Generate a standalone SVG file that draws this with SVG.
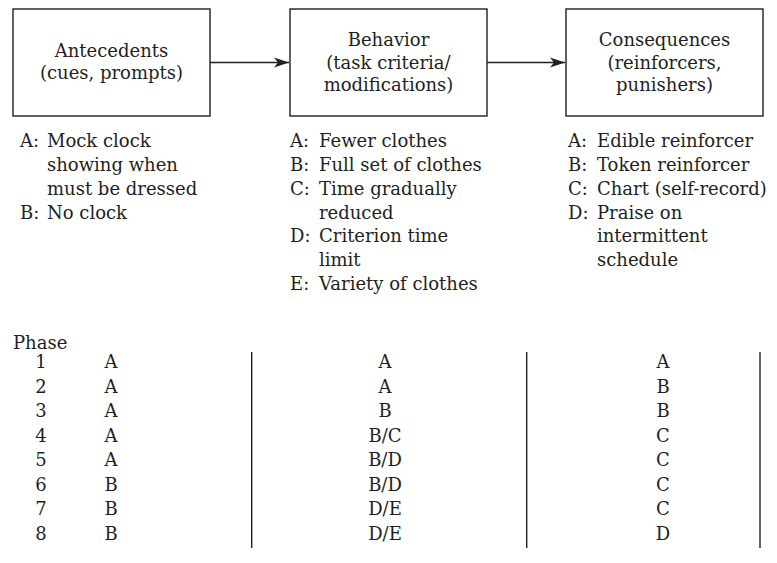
<svg xmlns="http://www.w3.org/2000/svg" width="777" height="563" viewBox="0 0 777 563">
<defs>
<style>
text{font-family:"DejaVu Serif","Liberation Serif",serif;font-size:18px;fill:#231f20}
.c{text-anchor:middle}
.box{fill:#fff;stroke:#231f20;stroke-width:1.4}
.ln{stroke:#231f20;stroke-width:1.4;fill:none}
</style>
<marker id="ah" markerUnits="userSpaceOnUse" markerWidth="16" markerHeight="12" refX="15" refY="6" orient="auto">
<path d="M0,1 L15,6 L0,11 L4,6 Z" fill="#231f20"/>
</marker>
</defs>
<rect width="777" height="563" fill="#fff"/>
<g id="connectors">
<line class="ln" x1="210" y1="62.5" x2="289" y2="62.5" marker-end="url(#ah)"/>
<line class="ln" x1="487" y1="62.5" x2="565" y2="62.5" marker-end="url(#ah)"/>
</g>
<g id="antecedents">
<rect class="box" x="13" y="9" width="197" height="107"/>
<text class="c" x="111.5" y="57">Antecedents</text>
<text class="c" x="111.5" y="79">(cues, prompts)</text>
</g>
<g id="behavior">
<rect class="box" x="290" y="9" width="197" height="107"/>
<text class="c" x="388.5" y="46">Behavior</text>
<text class="c" x="388.5" y="68.5">(task criteria/</text>
<text class="c" x="388.5" y="91">modifications)</text>
</g>
<g id="consequences">
<rect class="box" x="566" y="9" width="197" height="107"/>
<text class="c" x="664.5" y="46">Consequences</text>
<text class="c" x="664.5" y="68.5">(reinforcers,</text>
<text class="c" x="664.5" y="91">punishers)</text>
</g>
<g id="antecedent-list">
<text x="20" y="147">A:</text><text x="47" y="147">Mock clock</text>
<text x="47" y="171">showing when</text>
<text x="47" y="195">must be dressed</text>
<text x="20" y="219">B:</text><text x="47" y="219">No clock</text>
</g>
<g id="behavior-list">
<text x="290" y="147">A:</text><text x="319" y="147">Fewer clothes</text>
<text x="290" y="171">B:</text><text x="319" y="171">Full set of clothes</text>
<text x="290" y="195">C:</text><text x="319" y="195">Time gradually</text>
<text x="319" y="219">reduced</text>
<text x="290" y="242">D:</text><text x="319" y="242">Criterion time</text>
<text x="319" y="266">limit</text>
<text x="290" y="290">E:</text><text x="319" y="290">Variety of clothes</text>
</g>
<g id="consequence-list">
<text x="568" y="147">A:</text><text x="597" y="147">Edible reinforcer</text>
<text x="568" y="171">B:</text><text x="597" y="171">Token reinforcer</text>
<text x="568" y="195">C:</text><text x="597" y="195">Chart (self-record)</text>
<text x="568" y="219">D:</text><text x="597" y="219">Praise on</text>
<text x="597" y="242">intermittent</text>
<text x="597" y="266">schedule</text>
</g>
<g id="phase-table">
<text x="13" y="349">Phase</text>
<line class="ln" x1="251.7" y1="352" x2="251.7" y2="548"/>
<line class="ln" x1="526.7" y1="352" x2="526.7" y2="548"/>
<line class="ln" x1="760" y1="352" x2="760" y2="548"/>
<g class="c">
<text class="c" x="41" y="368">1</text><text class="c" x="111" y="368">A</text><text class="c" x="385" y="368">A</text><text class="c" x="663" y="368">A</text>
<text class="c" x="41" y="392.5">2</text><text class="c" x="111" y="392.5">A</text><text class="c" x="385" y="392.5">A</text><text class="c" x="663" y="392.5">B</text>
<text class="c" x="41" y="417">3</text><text class="c" x="111" y="417">A</text><text class="c" x="385" y="417">B</text><text class="c" x="663" y="417">B</text>
<text class="c" x="41" y="441.5">4</text><text class="c" x="111" y="441.5">A</text><text class="c" x="385" y="441.5">B/C</text><text class="c" x="663" y="441.5">C</text>
<text class="c" x="41" y="466">5</text><text class="c" x="111" y="466">A</text><text class="c" x="385" y="466">B/D</text><text class="c" x="663" y="466">C</text>
<text class="c" x="41" y="490.5">6</text><text class="c" x="111" y="490.5">B</text><text class="c" x="385" y="490.5">B/D</text><text class="c" x="663" y="490.5">C</text>
<text class="c" x="41" y="515">7</text><text class="c" x="111" y="515">B</text><text class="c" x="385" y="515">D/E</text><text class="c" x="663" y="515">C</text>
<text class="c" x="41" y="539.5">8</text><text class="c" x="111" y="539.5">B</text><text class="c" x="385" y="539.5">D/E</text><text class="c" x="663" y="539.5">D</text>
</g>
</g>
</svg>
